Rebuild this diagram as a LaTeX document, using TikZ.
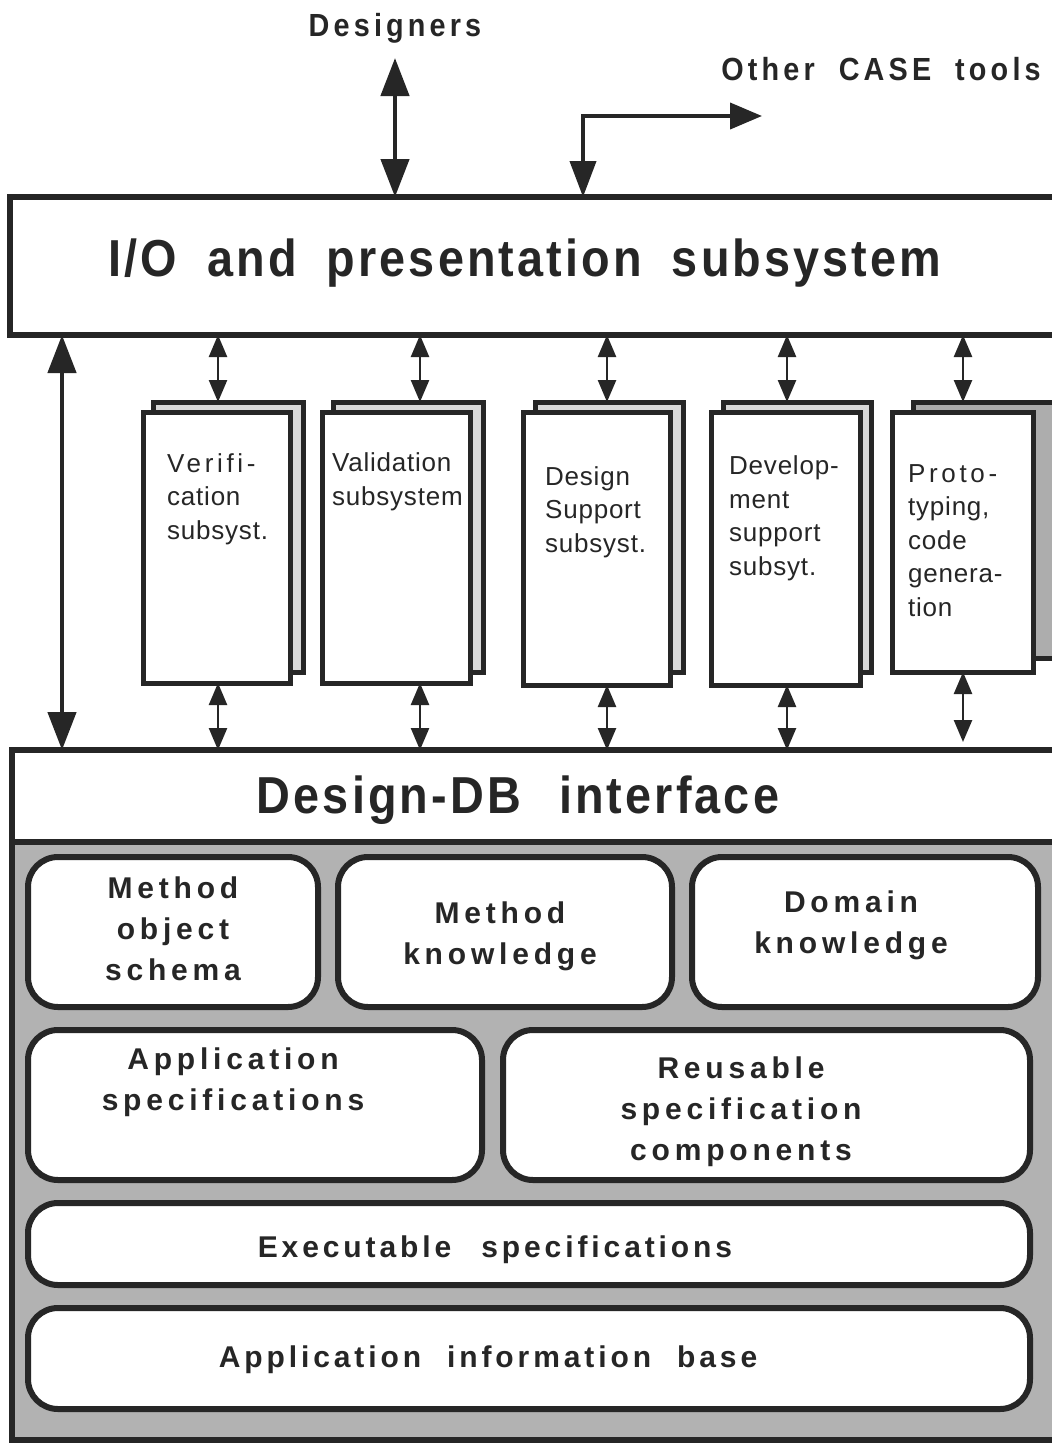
\documentclass[tikz,border=0pt]{standalone}
\usepackage{fontspec}
\setmainfont{Liberation Sans}
\newfontfamily\subfont[LetterSpace=3]{Liberation Sans}
\newfontfamily\wsubfont[LetterSpace=14]{Liberation Sans}
\newfontfamily\boxfont[LetterSpace=16]{Liberation Sans}
\newfontfamily\lboxfont[LetterSpace=13]{Liberation Sans}
\newfontfamily\headfont[LetterSpace=13,FakeStretch=0.9]{Liberation Sans}
\newfontfamily\titlefont[LetterSpace=6,FakeStretch=0.9]{Liberation Sans}
\usetikzlibrary{arrows.meta}
\begin{document}
\begin{tikzpicture}[x=1pt,y=-1pt,
 bigarrow/.style={draw=black!85, line width=4.5pt, {Triangle[length=38pt,width=28pt]}-{Triangle[length=38pt,width=28pt]}},
 casearrow/.style={draw=black!85, line width=4pt, {Triangle[length=32pt,width=26pt]}-{Triangle[length=36pt,width=26pt]}},
 smallarrow/.style={draw=black!85, line width=2.5pt, {Triangle[length=22pt,width=18pt]}-{Triangle[length=22pt,width=18pt]}},
 framebox/.style={draw=black!85, line width=6pt, fill=white, inner sep=0pt, outer sep=0pt, anchor=north west},
 storebox/.style={draw=black!85, line width=6pt, fill=black!30, inner sep=0pt, outer sep=0pt, anchor=north west},
 subfront/.style={draw=black!85, line width=5pt, fill=white, inner sep=0pt, outer sep=0pt, anchor=north west},
 subback/.style={draw=black!85, line width=5pt, fill=black!15, inner sep=0pt, outer sep=0pt, anchor=north west},
 rbox/.style={draw=black!85, line width=6pt, fill=white, rounded corners=30pt, inner sep=0pt, outer sep=0pt, anchor=north west},
 subtext/.style={anchor=base west, align=left, font=\subfont\fontsize{26}{33.5}\selectfont, inner sep=0pt, text=black!85},
 boxtext/.style={anchor=base, align=center, font=\boxfont\bfseries\fontsize{30}{41}\selectfont, inner sep=0pt, text=black!85},
 lboxtext/.style={anchor=base, align=center, font=\lboxfont\bfseries\fontsize{30}{41}\selectfont, inner sep=0pt, text=black!85},
 headtext/.style={anchor=base, font=\headfont\bfseries\fontsize{32}{36}\selectfont, inner sep=0pt, text=black!85},
 titletext/.style={anchor=base, font=\titlefont\bfseries\fontsize{52}{60}\selectfont, inner sep=0pt, text=black!85}
]
\clip (0,0) rectangle (1052,1446);
\fill[white] (0,0) rectangle (1052,1446);

% top texts
\node[headtext] (des) at (395,36) {Designers};
\node[headtext] (oct) at (881,80) {Other\hspace{24pt}CASE\hspace{24pt}tools};

% I/O subsystem
\node[framebox, minimum width=1070pt, minimum height=138pt] (io) at (10,197) {};
\node[titletext] (iot) at (525,276) {I/O\hspace{30pt}and\hspace{30pt}presentation\hspace{30pt}subsystem};

% store and Design-DB interface
\node[storebox, minimum width=1070pt, minimum height=598pt] (store) at (12,842) {};
\node[framebox, minimum width=1070pt, minimum height=92pt] (db) at (12,750) {};
\node[titletext] (dbt) at (518,813) {Design-DB\hspace{38pt}interface};

% subsystems (back sheets)
\node[subback, minimum width=150pt, minimum height=270pt] (vb) at (153,402) {};
\node[subback, minimum width=150pt, minimum height=270pt] (ab) at (333,402) {};
\node[subback, minimum width=148pt, minimum height=270pt] (sb) at (535,402) {};
\node[subback, minimum width=148pt, minimum height=270pt] (mb) at (723,402) {};
\node[subback, fill=black!32, minimum width=160pt, minimum height=256pt] (pb) at (913,402) {};
% subsystems (front sheets)
\node[subfront, minimum width=147pt, minimum height=271pt] (vf) at (143,412) {};
\node[subfront, minimum width=148pt, minimum height=271pt] (af) at (322,412) {};
\node[subfront, minimum width=147pt, minimum height=273pt] (sf) at (523,412) {};
\node[subfront, minimum width=149pt, minimum height=273pt] (mf) at (711,412) {};
\node[subfront, minimum width=141pt, minimum height=260pt] (pf) at (892,412) {};

\node[subtext] (vt) at (167,539) {{\wsubfont Verifi-}\\cation\\subsyst.};
\node[subtext] (at) at (332,505) {Validation\\subsystem};
\node[subtext] (st) at (545,552) {Design\\Support\\subsyst.};
\node[subtext] (mt) at (729,575) {Develop-\\ment\\support\\subsyt.};
\node[subtext] (pt) at (908,616) {{\wsubfont Proto-}\\typing,\\code\\genera-\\tion};

% arrow positions
\coordinate (x1) at (218,0);
\coordinate (x2) at (420,0);
\coordinate (x3) at (607,0);
\coordinate (x4) at (787,0);
\coordinate (x5) at (963,0);
\coordinate (xl) at (62,0);
\coordinate (desA) at (395,58);
\coordinate (octA) at (762,116);
\coordinate (xo) at (583,0);

% connectors
\draw[bigarrow] (desA) -- (io.north -| desA);
\draw[casearrow] (octA) -| (io.north -| xo);
\draw[bigarrow] (io.south -| xl) -- (db.north -| xl);

\draw[smallarrow] (io.south -| x1) -- (vb.north -| x1);
\draw[smallarrow] (io.south -| x2) -- (ab.north -| x2);
\draw[smallarrow] (io.south -| x3) -- (sb.north -| x3);
\draw[smallarrow] (io.south -| x4) -- (mb.north -| x4);
\draw[smallarrow] (io.south -| x5) -- (pb.north -| x5);

\draw[smallarrow] (vf.south -| x1) -- (db.north -| x1);
\draw[smallarrow] (af.south -| x2) -- (db.north -| x2);
\draw[smallarrow] (sf.south -| x3) -- (db.north -| x3);
\draw[smallarrow] (mf.south -| x4) -- (db.north -| x4);
\draw[smallarrow] (pf.south -| x5) -- ([yshift=8pt]db.north -| x5);

% knowledge base boxes
\node[rbox, minimum width=290pt, minimum height=150pt] (mos) at (28,857) {};
\node[rbox, minimum width=334pt, minimum height=150pt] (mk) at (338,857) {};
\node[rbox, minimum width=346pt, minimum height=150pt] (dk) at (692,857) {};
\node[rbox, minimum width=454pt, minimum height=150pt] (as) at (28,1030) {};
\node[rbox, minimum width=527pt, minimum height=150pt] (rs) at (503,1030) {};
\node[rbox, minimum width=1002pt, minimum height=82pt] (es) at (28,1203) {};
\node[rbox, minimum width=1002pt, minimum height=101pt] (ai) at (28,1308) {};

\node[boxtext] (most) at (173,980) {Method\\object\\schema};
\node[boxtext] (mkt) at (500,964) {Method\\knowledge};
\node[boxtext] (dkt) at (851,953) {Domain\\knowledge};
\node[boxtext] (ast) at (233,1110) {Application\\specifications};
\node[boxtext] (rst) at (741,1160) {Reusable\\specification\\components};
\node[lboxtext] (est) at (495,1257) {Executable\hspace{30pt}specifications};
\node[lboxtext] (ait) at (488,1367) {Application\hspace{26pt}information\hspace{26pt}base};
\end{tikzpicture}
\end{document}
